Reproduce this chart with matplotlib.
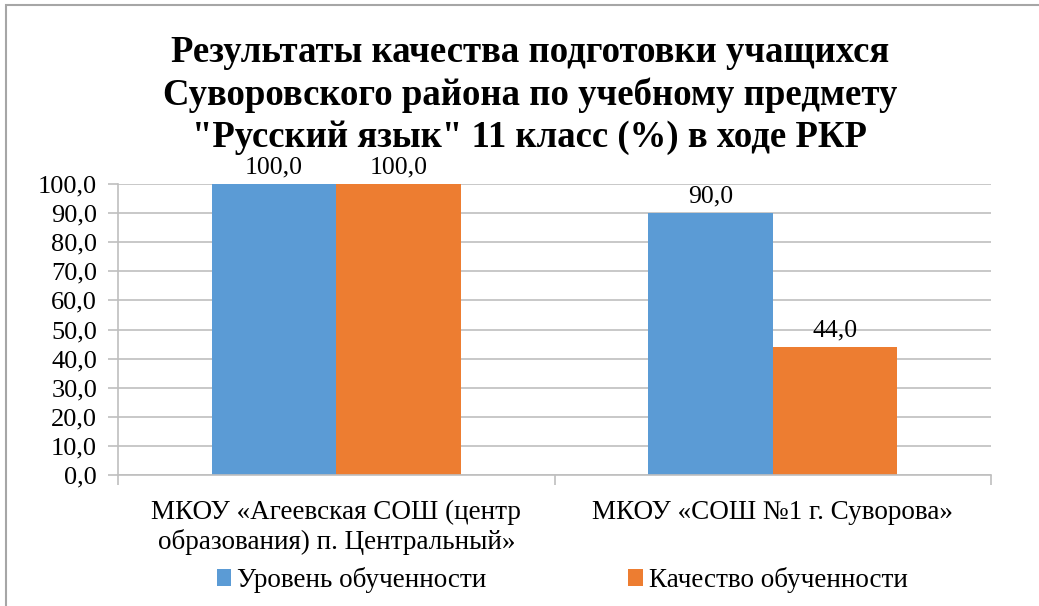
import matplotlib
matplotlib.use("Agg")
import matplotlib.pyplot as plt
import numpy as np
from matplotlib.patches import Rectangle

# Data
categories = ["МКОУ «Агеевская СОШ (центр\nобразования) п. Центральный»",
              "МКОУ «СОШ №1 г. Суворова»"]
series_names = ["Уровень обученности", "Качество обученности"]
level = [100.0, 90.0]
quality = [100.0, 44.0]
yticks = [0, 10, 20, 30, 40, 50, 60, 70, 80, 90, 100]

COLORS = ["#5B9BD5", "#ED7D31"]
GRID = "#BFBFBF"

plt.rcParams["font.family"] = "serif"
plt.rcParams["font.serif"] = ["Liberation Serif", "DejaVu Serif"]

fig = plt.figure(figsize=(10.39, 6.06), dpi=100)
ax = fig.add_axes([118 / 1039, 1 - 475 / 606, 873 / 1039, 291 / 606])

x = np.arange(len(categories))
w = 0.285
b1 = ax.bar(x - w / 2, level, w, color=COLORS[0], label=series_names[0], zorder=2)
b2 = ax.bar(x + w / 2, quality, w, color=COLORS[1], label=series_names[1], zorder=2)

for bars in (b1, b2):
    for rect in bars:
        v = rect.get_height()
        ax.annotate(("%.1f" % v).replace(".", ","),
                    (rect.get_x() + rect.get_width() / 2, v),
                    xytext=(0, 4), textcoords="offset points",
                    ha="center", va="bottom", fontsize=18.5, color="#000000")

ax.set_xlim(-0.5, len(categories) - 0.5)
ax.set_ylim(0, 100)
ax.set_yticks(yticks)
ax.set_yticklabels([("%.1f" % t).replace(".", ",") for t in yticks], fontsize=19)
ax.yaxis.grid(True, color=GRID, lw=1.2, zorder=0)

# category labels centred, ticks at category boundaries
ax.set_xticks(x)
ax.set_xticklabels(categories, fontsize=19.5, linespacing=1.2)
ax.tick_params(axis="x", length=0, pad=18)
ax.set_xticks([-0.5, 0.5, 1.5], minor=True)
ax.tick_params(axis="x", which="minor", length=7, color=GRID, width=1.2)
ax.tick_params(axis="y", length=7, color=GRID, width=1.2, pad=8)

for s in ("top", "right"):
    ax.spines[s].set_visible(False)
for s in ("left", "bottom"):
    ax.spines[s].set_color(GRID)
    ax.spines[s].set_linewidth(1.2)

fig.text(0.51, 1 - 95 / 606,
         "Результаты качества подготовки учащихся\n"
         "Суворовского района по учебному предмету\n"
         "\"Русский язык\" 11 класс (%) в ходе РКР",
         ha="center", va="center", fontsize=26.5, fontweight="bold",
         linespacing=1.25)

leg = fig.legend(handles=[b1, b2], loc="center", ncol=2,
                 bbox_to_anchor=(562 / 1039, 1 - 580 / 606),
                 frameon=False, fontsize=19.5, handlelength=0.55,
                 handleheight=0.55, handletextpad=0.2, columnspacing=5.25)

# outer chart frame (cropped on right/bottom)
fig.patches.append(Rectangle((6 / 1039, -0.1), 1.2, 1.1 - 5 / 606,
                             transform=fig.transFigure, fill=False,
                             edgecolor="#A6A6A6", lw=1.5))

fig.savefig("out.png", dpi=100)
